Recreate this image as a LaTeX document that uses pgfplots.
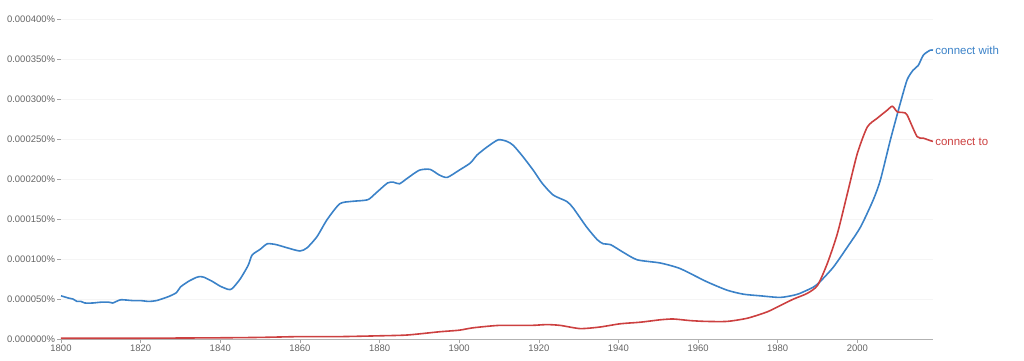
\documentclass[border=0pt]{standalone}
\usepackage{fontspec}
\setmainfont{Liberation Sans}
\usepackage{pgfplots}
\pgfplotsset{compat=1.18}
\definecolor{ngblue}{RGB}{59,130,200}
\definecolor{ngred}{RGB}{204,64,64}
\definecolor{ticktext}{RGB}{100,100,100}
\begin{document}
\begin{tikzpicture}
\begin{axis}[
  scale only axis,
  width=872bp, height=320bp,
  xmin=1800, xmax=2019, ymin=0, ymax=400,
  axis x line=bottom, axis y line=left,
  axis line style={-},
  y axis line style={draw=none},
  x axis line style={draw=gray!60, line width=0.8bp},
  xtick={1800,1820,...,2000},
  ytick={0,50,...,400},
  yticklabels={0.000000\%,0.000050\%,0.000100\%,0.000150\%,0.000200\%,0.000250\%,0.000300\%,0.000350\%,0.000400\%},
  xticklabel style={/pgf/number format/1000 sep={}, yshift=1bp},
  yticklabel style={xshift=1bp},
  /pgf/number format/assume math mode=true,
  tick label style={font=\fontsize{9.5}{11}\selectfont, text=ticktext},
  tick style={draw=gray!70, line width=0.6bp},
  tick align=outside,
  major tick length=3.5bp,
  ymajorgrids,
  grid style={draw=gray!8, line width=0.6bp},
  clip=false,
  every axis plot/.append style={line width=1.6bp, line join=round},
]
\addplot[ngblue, smooth, tension=0.4] coordinates {
(1800,54)(1802,51)(1803,50)(1804,47)(1805,47)(1806,45)(1808,45)(1810,46)(1812,46)(1813,45)
(1815,49)(1818,48)(1820,48)(1822,47)(1824,48)(1827,53)(1829,58)(1830,65)(1832,72)(1834,77)
(1835,78)(1836,77)(1838,72)(1840,66)(1842,62)(1843,63)(1845,75)(1847,92)(1848,105)(1850,112)
(1851.8,119)(1854,118)(1856.8,114)(1860,110)(1861.8,114)(1864.3,128)(1866.8,149)(1870,169)
(1873,172)(1877,174)(1879,182)(1882,195)(1883.5,196)(1885,194)(1887,201)(1890,211)(1892.7,212)
(1895,205)(1897,202)(1900,211)(1902.8,220)(1904.5,230)(1907,240)(1909.8,249)(1912,247)
(1913.6,242)(1916,228)(1918.6,211)(1920.8,195)(1923.6,180)(1927,172)(1928.6,164)(1932,140)
(1934.7,124)(1936.2,119)(1938,118)(1941,109)(1944.7,99)(1950.5,95)(1955.5,88)(1962,72)
(1967.3,61)(1971.4,56)(1975.6,54)(1980.7,52)(1985,56)(1989,65)(1990.7,72)(1994,90)(1997.5,115)
(2000.8,140)(2004,174)(2005.8,199)(2008.3,249)(2010.8,295)(2012.5,324)(2014,336)(2015.3,342)
(2016.6,355)(2018.3,361)(2019,361)
} node[pos=1, anchor=west, inner sep=1.5bp, text=ngblue, font=\fontsize{11.5}{13}\selectfont] {connect with};
\addplot[ngred, smooth, tension=0.4] coordinates {
(1800,1)(1820,1)(1840,1.5)(1850,2)(1860,3)(1870,3)(1880,4)(1887,5)(1895,9)(1900,11)(1903.5,14)
(1910,17)(1918,17)(1922,18)(1925.4,17)(1930.4,13)(1935.4,15)(1940.4,19)(1945.5,21)(1950.5,24)
(1953.8,25)(1958,23)(1962,22)(1967.3,22)(1972.4,26)(1977.4,34)(1980.7,42)(1984,50)(1987.4,57)
(1990,67)(1992.5,95)(1995,132)(1997.5,182)(2000,232)(2002.5,265)(2005,276)(2007.5,286)
(2008.8,291)(2010,284)(2011.6,283)(2012.5,280)(2015,253)(2016.6,251)(2018.3,248)(2019,247)
} node[pos=1, anchor=west, inner sep=1.5bp, text=ngred, font=\fontsize{11.5}{13}\selectfont] {connect to};
\end{axis}
\pgfresetboundingbox
\path[use as bounding box] ([shift={(-61bp,-22bp)}]current axis.south west) rectangle ([shift={(91bp,19bp)}]current axis.north east);
\end{tikzpicture}
\end{document}
